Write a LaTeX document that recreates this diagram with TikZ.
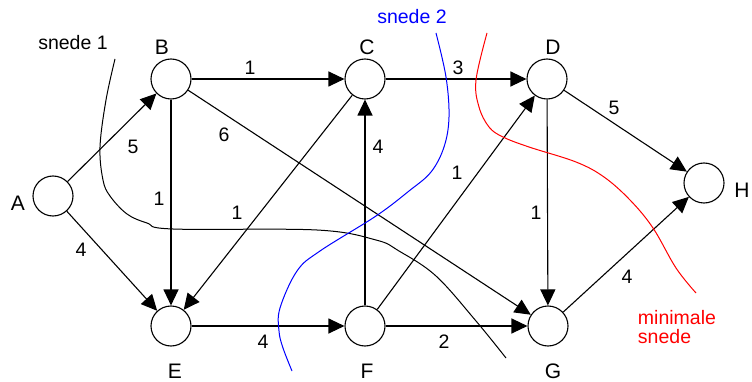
\documentclass[tikz,border=0pt]{standalone}
\usepackage{fontspec}
\setmainfont{Liberation Sans}
\usetikzlibrary{arrows.meta}
\begin{document}
\begin{tikzpicture}[x=1pt,y=-1pt,
  vertex/.style={circle,draw,line width=1.1pt,minimum size=40pt,inner sep=0pt},
  edge/.style={line width=1.1pt,-{Triangle[length=16pt,width=15pt]}},
  vlabel/.style={font=\fontsize{21}{21}\selectfont,inner sep=0pt},
  wlabel/.style={font=\fontsize{19.5}{19.5}\selectfont,inner sep=0pt},
  cut/.style={line width=1pt}]
\useasboundingbox (0,0) rectangle (752,382);
% vertices
\node[vertex] (A) at (53,196) {};
\node[vertex] (B) at (171,79) {};
\node[vertex] (C) at (365,79) {};
\node[vertex] (D) at (547,79) {};
\node[vertex] (H) at (704,183) {};
\node[vertex] (E) at (171,326) {};
\node[vertex] (F) at (365,326) {};
\node[vertex] (G) at (548,326) {};
% vertex labels
\node[vlabel] (lA) at (18,203) {A};
\node[vlabel] (lB) at (162,47) {B};
\node[vlabel] (lC) at (367,47) {C};
\node[vlabel] (lD) at (553,47) {D};
\node[vlabel] (lH) at (742,190) {H};
\node[vlabel] (lE) at (175,371) {E};
\node[vlabel] (lF) at (367,371) {F};
\node[vlabel] (lG) at (553,371) {G};
% edges
\draw[edge] (A) -- (B);
\draw[edge] (A) -- (E);
\draw[edge] (B) -- (C);
\draw[edge] (C) -- (D);
\draw[edge] (D) -- (H);
\draw[edge] (B) -- (E);
\draw[edge] (C) -- (E);
\draw[edge] (B) -- (G);
\draw[edge] (F) -- (C);
\draw[edge] (F) -- (D);
\draw[edge] (D) -- (G);
\draw[edge] (E) -- (F);
\draw[edge] (F) -- (G);
\draw[edge] (G) -- (H);
% weights
\node[wlabel] (wAB) at (133,147) {5};
\node[wlabel] (wAE) at (81,250) {4};
\node[wlabel] (wBC) at (250,68) {1};
\node[wlabel] (wCD) at (458,68) {3};
\node[wlabel] (wDH) at (614,108) {5};
\node[wlabel] (wBE) at (159,199) {1};
\node[wlabel] (wCE) at (237,213) {1};
\node[wlabel] (wBG) at (224,135) {6};
\node[wlabel] (wFC) at (378,147) {4};
\node[wlabel] (wFD) at (457,173) {1};
\node[wlabel] (wDG) at (536,213) {1};
\node[wlabel] (wEF) at (263,342) {4};
\node[wlabel] (wFG) at (444,342) {2};
\node[wlabel] (wGH) at (627,277) {4};
% cuts
\draw[cut] plot[smooth,tension=0.6] coordinates {(115,59) (106,100) (100,147) (103,180) (110,196) (127,214) (147,223) (173,229) (317,230) (376,240) (399,251) (436,276) (476,321) (506,358)};
\draw[cut,blue] plot[smooth,tension=0.6] coordinates {(436,33) (446,77) (449,117) (444,147) (431,172) (409,191) (376,216) (320,251) (297,271) (280,308) (279,331) (283,348) (292,371)};
\draw[cut,red] plot[smooth,tension=0.6] coordinates {(487,33) (476,80) (479,107) (489,127) (503,137) (529,147) (576,162) (604,177) (630,200) (653,228) (676,268) (696,293)};
\node[wlabel] (s1) at (73,43) {snede 1};
\node[wlabel,text=blue] (s2) at (412,17) {snede 2};
\node[wlabel,text=red,align=left] (s3) at (677,327) {minimale\\snede};
\end{tikzpicture}
\end{document}
